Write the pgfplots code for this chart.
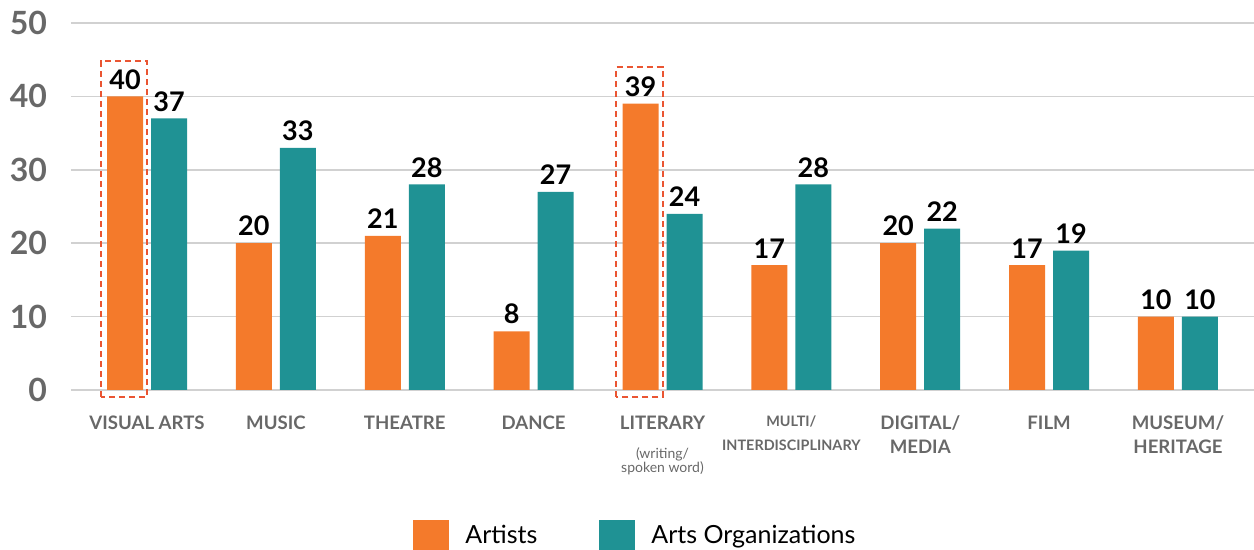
\documentclass[border=0pt]{standalone}
\usepackage{fontspec}
\setmainfont{Lato}
\usepackage{pgfplots}
\pgfplotsset{compat=1.18}
\definecolor{artorange}{HTML}{F47A2B}
\definecolor{artteal}{HTML}{1F9294}
\definecolor{ticgray}{HTML}{686868}
\definecolor{boxred}{HTML}{EA5532}
\newcommand{\subf}{\mdseries\fontsize{7}{8}\selectfont}
\newcommand{\smallcap}{\bfseries\fontsize{7.2}{9}\selectfont}

\begin{document}
\begin{tikzpicture}
\path[use as bounding box] (-35.5pt,-80pt) rectangle (591.5pt,195pt);
\begin{axis}[
  at={(0pt,0pt)}, anchor=south west,
  scale only axis, width=591.5pt, height=183.5pt,
  xmin=-0.59, xmax=8.59, ymin=0, ymax=50,
  ybar=4pt, bar width=18pt,
  axis line style={draw=none}, major tick length=0pt,
  ymajorgrids, grid style={color=black!18, line width=0.8pt},
  ytick={0,10,20,30,40,50},
  xtick={0,...,8},
  xticklabels={
    VISUAL ARTS, MUSIC, THEATRE, DANCE,
    {LITERARY\\[2.5pt]{\subf (writing/}\\[-5pt]{\subf spoken word)}},
    {{\smallcap MULTI/}\\{\smallcap INTERDISCIPLINARY}},
    {DIGITAL/\\MEDIA}, FILM, {MUSEUM/\\HERITAGE}},
  /pgf/number format/assume math mode=true,
  yticklabel style={font=\bfseries\fontsize{16}{18}\selectfont, text=ticgray, xshift=-8.5pt},
  xticklabel style={font=\bfseries\fontsize{9.3}{12}\selectfont, text=ticgray,
                    align=center, anchor=north, yshift=-9.5pt},
  nodes near coords,
  every node near coord/.append style={font=\bfseries\fontsize{13.5}{15}\selectfont, text=black},
  clip=false,
  legend style={at={(0.478,-0.398)}, anchor=center, draw=none,
                legend columns=2, font=\fontsize{12.5}{15}\selectfont,
                /tikz/every odd column/.append style={column sep=6pt},
                /tikz/every even column/.append style={column sep=29pt}},
]
\addplot[fill=artorange, draw=none,
  legend image code/.code={\fill[artorange] (0pt,-8pt) rectangle (18pt,8pt);}]
  coordinates {(0,40) (1,20) (2,21) (3,8) (4,39) (5,17) (6,20) (7,17) (8,10)};
\addplot[fill=artteal, draw=none,
  legend image code/.code={\fill[artteal] (0pt,-8pt) rectangle (18pt,8pt);}]
  coordinates {(0,37) (1,33) (2,28) (3,27) (4,24) (5,28) (6,22) (7,19) (8,10)};
\legend{Artists, Arts Organizations}
\draw[boxred, line width=1pt, dash pattern=on 3pt off 2pt]
  (axis cs:-0.357,-0.95) rectangle (axis cs:0,44.8);
\draw[boxred, line width=1pt, dash pattern=on 3pt off 2pt]
  (axis cs:3.643,-0.95) rectangle (axis cs:4,44.0);
\end{axis}
\end{tikzpicture}
\end{document}
